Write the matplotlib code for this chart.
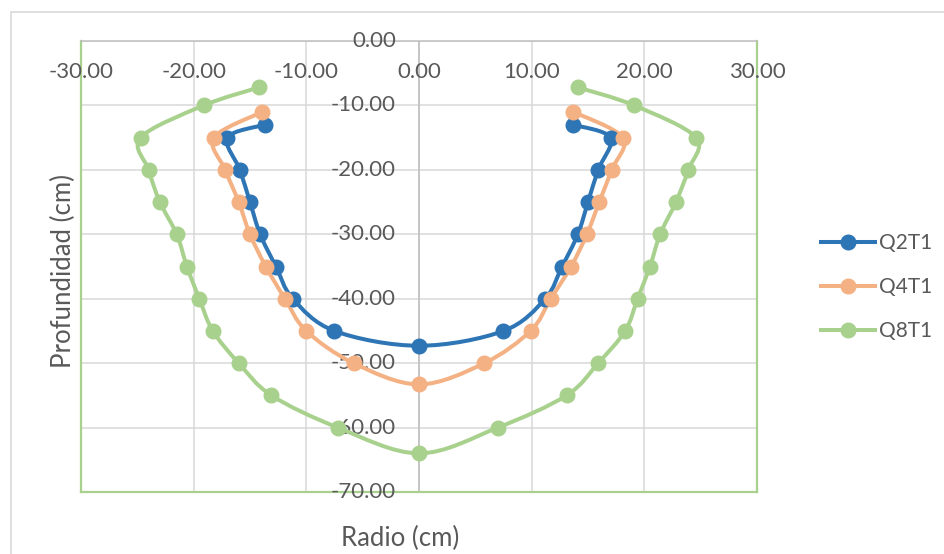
import numpy as np
import matplotlib
matplotlib.use("Agg")
import matplotlib.pyplot as plt
from matplotlib.path import Path
from matplotlib.patches import PathPatch, Rectangle
from matplotlib.lines import Line2D

# radius (cm) and depth (cm) of each profile
q2_x = [-13.7, -17.0, -15.9, -15.0, -14.1, -12.7, -11.2, -7.5, 0.0,
        7.5, 11.2, 12.7, 14.1, 15.0, 15.9, 17.0, 13.7]
q2_y = [-13, -15, -20, -25, -30, -35, -40, -45, -47.3,
        -45, -40, -35, -30, -25, -20, -15, -13]

q4_x = [-13.9, -18.2, -17.2, -16.0, -15.0, -13.6, -11.9, -10.0, -5.8, 0.0,
        5.8, 9.9, 11.7, 13.5, 14.9, 16.0, 17.1, 18.1, 13.7]
q4_y = [-11, -15, -20, -25, -30, -35, -40, -45, -50, -53.3,
        -50, -45, -40, -35, -30, -25, -20, -15, -11]

q8_x = [-14.2, -19.1, -24.7, -24.0, -23.0, -21.5, -20.6, -19.5, -18.3, -16.0, -13.1, -7.2, 0.0,
        7.0, 13.1, 15.9, 18.3, 19.4, 20.5, 21.4, 22.8, 23.9, 24.6, 19.1, 14.1]
q8_y = [-7.2, -10, -15, -20, -25, -30, -35, -40, -45, -50, -55, -60, -64,
        -60, -55, -50, -45, -40, -35, -30, -25, -20, -15, -10, -7.2]

labels = ["Q2T1", "Q4T1", "Q8T1"]
colors = ["#2E75B6", "#F4B183", "#A9D18E"]
x_ticks = [-30, -20, -10, 0, 10, 20, 30]
y_ticks = [0, -10, -20, -30, -40, -50, -60, -70]

TXT = "#595959"
plt.rcParams['font.family'] = ['Lato', 'DejaVu Sans']


def smooth_path(xs, ys):
    """excel-like smoothed line through the points (bezier)"""
    pts = np.column_stack([xs, ys]).astype(float)
    n = len(pts)
    verts = [pts[0]]
    codes = [Path.MOVETO]
    for i in range(n - 1):
        p0 = pts[i - 1] if i > 0 else pts[i]
        p1 = pts[i]
        p2 = pts[i + 1]
        p3 = pts[i + 2] if i + 2 < n else pts[i + 1]
        c1 = p1 + (p2 - p0) / 6.0
        c2 = p2 - (p3 - p1) / 6.0
        verts += [c1, c2, p2]
        codes += [Path.CURVE4] * 3
    return Path(verts, codes)


fig = plt.figure(figsize=(9.44, 5.54), dpi=100)
fig.add_artist(Rectangle((11 / 944, -0.1), 1.1, 1.1 - 12 / 554, transform=fig.transFigure,
                         fill=False, edgecolor="#d9d9d9", linewidth=1.2))

ax = fig.add_axes([81 / 944, 1 - 492 / 554, (757 - 81) / 944, (492 - 41) / 554])
ax.set_xlim(-30, 30)
ax.set_ylim(-70, 0)
ax.set_xticks(x_ticks)
ax.set_yticks(y_ticks)
ax.tick_params(length=0, labelbottom=False, labelleft=False)
ax.grid(True, color="#d9d9d9", linewidth=1.1)
ax.set_axisbelow(True)
for side in ["left", "right", "bottom"]:
    ax.spines[side].set_color("#A9D18E")
    ax.spines[side].set_linewidth(1.6)
ax.spines["top"].set_color("#bfbfbf")
ax.spines["top"].set_linewidth(1.1)
ax.axvline(0, color="#bfbfbf", linewidth=1.1, zorder=1.5)

for v in x_ticks:
    ax.annotate(f"{v:.2f}", (v, 0), xytext=(0, -31), textcoords="offset pixels",
                ha="center", va="center", fontsize=16, color=TXT, annotation_clip=False)
for v in y_ticks:
    ax.annotate(f"{v:.2f}", (0, v), xytext=(-23, 0), textcoords="offset pixels",
                ha="right", va="center", fontsize=16, color=TXT, annotation_clip=False)

handles = []
for xs, ys, lab, col in zip([q2_x, q4_x, q8_x], [q2_y, q4_y, q8_y], labels, colors):
    ax.add_patch(PathPatch(smooth_path(xs, ys), facecolor="none", edgecolor=col,
                           linewidth=2.9, capstyle="round", joinstyle="round", zorder=3))
    ax.plot(xs, ys, "o", color=col, markersize=10.5, zorder=4, clip_on=False)
    handles.append(Line2D([], [], color=col, linewidth=2.9, marker="o", markersize=10.5, label=lab))

fig.legend(handles=handles, loc="center left", bbox_to_anchor=(821 / 944, 1 - 287 / 554),
           frameon=False, fontsize=15, handlelength=2.6, handletextpad=0.2,
           labelspacing=1.16, borderpad=0, borderaxespad=0, labelcolor=TXT)

fig.text(400 / 944, 1 - 538 / 554, "Radio (cm)", ha="center", va="center", fontsize=18.5, color=TXT)
fig.text(63 / 944, 1 - 271 / 554, "Profundidad (cm)", ha="center", va="center",
         rotation=90, fontsize=18.5, color=TXT)

fig.savefig("out.png", dpi=100)
